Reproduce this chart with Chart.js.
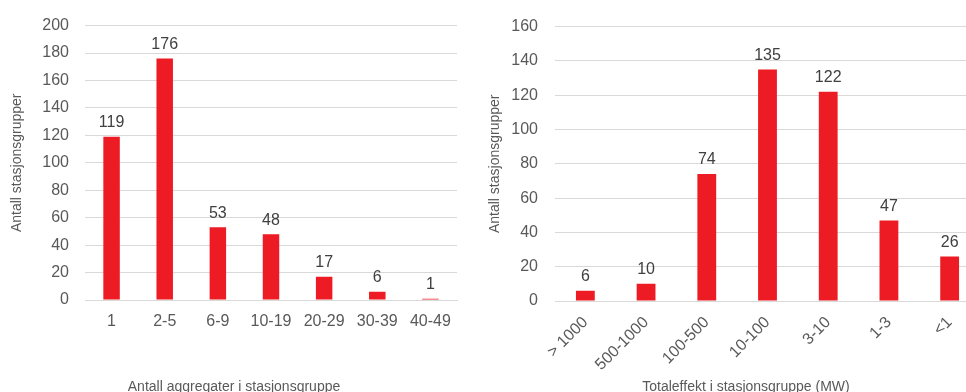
<!DOCTYPE html>
<html>
<head>
<meta charset="utf-8">
<script src="https://cdn.jsdelivr.net/npm/chart.js@4/dist/chart.umd.min.js"></script>
<style>
  html, body { margin: 0; padding: 0; width: 966px; height: 392px; overflow: hidden; background: #fff; }
  canvas { position: absolute; top: 0; }
  .xtitle { position: absolute; top: 378px; font: 14px "Liberation Sans", Arial, sans-serif; color: #595959; white-space: nowrap; transform: translateX(-50%); }
</style>
</head>
<body>
<canvas id="left" width="483" height="392" style="left:0"></canvas>
<canvas id="right" width="497" height="392" style="left:483px"></canvas>
<div class="xtitle" style="left:234px">Antall aggregater i stasjonsgruppe</div>
<div class="xtitle" style="left:746px">Totaleffekt i stasjonsgruppe (MW)</div>
<script>
// left chart: number of units per station group
const aggCategories = ["1", "2-5", "6-9", "10-19", "20-29", "30-39", "40-49"];
const aggCounts = [119, 176, 53, 48, 17, 6, 1];

// right chart: total power per station group (MW)
const mwCategories = ["> 1000", "500-1000", "100-500", "10-100", "3-10", "1-3", "<1"];
const mwCounts = [6, 10, 74, 135, 122, 47, 26];

const yTitle = "Antall stasjonsgrupper";
const RED = "#ED1C24";
const FONT = "'Liberation Sans', Arial, sans-serif";

// draw the value above each bar
const valueLabels = {
  id: "valueLabels",
  afterDatasetsDraw(chart) {
    const ctx = chart.ctx;
    ctx.save();
    ctx.font = "16px " + FONT;
    ctx.fillStyle = "#404040";
    ctx.textAlign = "center";
    ctx.textBaseline = "bottom";
    const meta = chart.getDatasetMeta(0);
    meta.data.forEach((bar, i) => {
      ctx.fillText(chart.data.datasets[0].data[i], bar.x, bar.y - 6);
    });
    ctx.restore();
  }
};

function makeChart(id, labels, values, opts) {
  return new Chart(document.getElementById(id), {
    type: "bar",
    data: {
      labels: labels,
      datasets: [{
        data: values,
        backgroundColor: RED,
        categoryPercentage: 1,
        barPercentage: opts.barPct
      }]
    },
    options: {
      responsive: false,
      animation: false,
      layout: { padding: { top: 24, right: opts.padRight, left: 0, bottom: 0 } },
      plugins: { legend: { display: false }, tooltip: { enabled: false } },
      scales: {
        x: {
          grid: { display: false, drawTicks: false },
          border: { color: "#d9d9d9" },
          ticks: {
            color: "#595959",
            font: { family: FONT, size: 16 },
            padding: opts.xPad,
            minRotation: opts.rot,
            maxRotation: opts.rot,
            autoSkip: false
          },
          afterFit(axis) { axis.height = opts.xHeight; }
        },
        y: {
          min: 0,
          max: opts.yMax,
          grid: { color: "#d9d9d9", drawTicks: false },
          border: { display: false },
          ticks: {
            stepSize: 20,
            color: "#595959",
            font: { family: FONT, size: 16 },
            padding: opts.yPad
          },
          title: {
            display: true,
            text: yTitle,
            color: "#595959",
            font: { family: FONT, size: 14 },
            padding: { top: opts.titlePad, bottom: 0 }
          },
          afterFit(axis) { axis.width = opts.yWidth; }
        }
      }
    },
    plugins: [valueLabels]
  });
}

makeChart("left", aggCategories, aggCounts, {
  barPct: 0.31, padRight: 26, xPad: 12, rot: 0, xHeight: 92,
  yMax: 200, yPad: 16, titlePad: 9, yWidth: 85
});

makeChart("right", mwCategories, mwCounts, {
  barPct: 0.31, padRight: 0, xPad: 12, rot: 45, xHeight: 91,
  yMax: 160, yPad: 17, titlePad: 4, yWidth: 72
});
</script>
</body>
</html>
